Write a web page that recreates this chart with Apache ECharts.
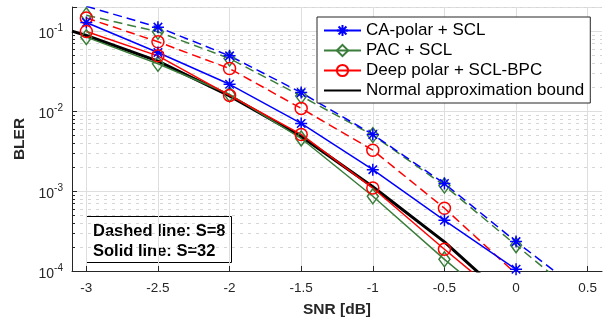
<!DOCTYPE html>
<html>
<head>
<meta charset="utf-8">
<script src="https://cdn.jsdelivr.net/npm/echarts@6/dist/echarts.min.js"></script>
<style>
  html, body { margin: 0; padding: 0; background: #fff; }
  #chart { width: 616px; height: 324px; }
</style>
</head>
<body>
<div id="chart"></div>
<script>
// SNR grid (dB)
const snr = [-3, -2.5, -2, -1.5, -1, -0.5, 0, 0.5];
const snrBound = [-3.1, -3, -2.5, -2, -1.5, -1, -0.5, 0];

// S = 8 (dashed)
const caS8 = [0.204, 0.112, 0.049, 0.0170, 0.0051, 0.00124, 0.000233, 0.000048];
const pacS8 = [0.158, 0.098, 0.0454, 0.0154, 0.0050, 0.00117, 0.00021, 0.000039];
const deepS8 = [0.146, 0.0734, 0.034, 0.0108, 0.00324, 0.00061, 0.000092];

// S = 32 (solid)
const caS32 = [0.128, 0.054, 0.0216, 0.0070, 0.00185, 0.00043, 0.000105];
const pacS32 = [0.084, 0.039, 0.0162, 0.00454, 0.00086, 0.00014, 0.000025];
const deepS32 = [0.099, 0.049, 0.0157, 0.0051, 0.00109, 0.000187, 0.000034];

// normal approximation bound
const normalBound = [0.1, 0.088, 0.042, 0.0155, 0.0048, 0.00113, 0.000231, 0.000036];

const xTicks = [-3, -2.5, -2, -1.5, -1, -0.5, 0, 0.5];
const decades = [1e-4, 1e-3, 1e-2, 1e-1];
const minorMult = [2, 3, 4, 5, 6, 7, 8, 9];

const X_MIN = -3.1, X_MAX = 0.6, Y_MIN = 1e-4, Y_MAX = 0.2;
const BLUE = '#0000ff', GREEN = '#3a7d3a', RED = '#ff0000';
const FONT = "'Liberation Sans', Arial, Helvetica, sans-serif";
const STAR = 'path://M0,-10L0,10M-10,0L10,0M-7.07,-7.07L7.07,7.07M-7.07,7.07L7.07,-7.07';
const CLEAR = 'rgba(0,0,0,0)';

const pairs = (xs, ys) => ys.map((y, i) => [xs[i], y]);

// minor grid values (2..9 x decade), inside the axis range
const minorVals = [];
decades.forEach(d => minorMult.forEach(m => {
  const v = +(m * d).toPrecision(3);
  if (v <= Y_MAX + 1e-12) minorVals.push([X_MIN, v]);
}));

function lineSeries(name, data, color, symbol, size, dashed) {
  return {
    name: name,
    type: 'line',
    data: data,
    symbol: symbol,
    symbolSize: size,
    showAllSymbol: true,
    lineStyle: { color: color, width: 1.5, type: dashed ? [9, 5] : 'solid' },
    itemStyle: { color: CLEAR, borderColor: color, borderWidth: 1.5 },
    emphasis: { disabled: true },
    z: 3
  };
}

const chart = echarts.init(document.getElementById('chart'));

chart.setOption({
  animation: false,
  grid: { left: 72, top: 7, right: 14, bottom: 53 },
  legend: {
    orient: 'vertical',
    left: 317,
    top: 17,
    padding: [5, 6, 4, 6],
    itemWidth: 37,
    itemHeight: 14,
    itemGap: 3,
    backgroundColor: '#fff',
    borderColor: '#262626',
    borderWidth: 1,
    borderRadius: 0,
    textStyle: { fontFamily: FONT, fontSize: 17, lineHeight: 17, color: '#000' },
    data: ['CA-polar + SCL', 'PAC + SCL', 'Deep polar + SCL-BPC', 'Normal approximation bound']
  },
  xAxis: {
    type: 'value',
    min: X_MIN,
    max: X_MAX,
    name: 'SNR [dB]',
    nameLocation: 'middle',
    nameGap: 31,
    nameTextStyle: { fontFamily: FONT, fontSize: 15.5, fontWeight: 'bold', color: '#262626' },
    axisLine: { onZero: false, lineStyle: { color: '#262626', width: 1 } },
    axisTick: { inside: true, length: 5, customValues: xTicks, lineStyle: { color: '#262626' } },
    axisLabel: {
      customValues: xTicks,
      margin: 10,
      fontFamily: FONT,
      fontSize: 13.5,
      color: '#262626',
      formatter: v => String(v)
    },
    splitLine: { show: true, lineStyle: { color: '#dedede', width: 1 } }
  },
  yAxis: {
    type: 'log',
    logBase: 10,
    min: Y_MIN,
    max: Y_MAX,
    name: 'BLER',
    nameLocation: 'middle',
    nameGap: 41,
    nameTextStyle: { fontFamily: FONT, fontSize: 15.5, fontWeight: 'bold', color: '#262626' },
    axisLine: { show: true, onZero: false, lineStyle: { color: '#262626', width: 1 } },
    axisTick: { show: true, inside: true, length: 5, lineStyle: { color: '#262626' } },
    axisLabel: {
      margin: 9,
      color: '#262626',
      formatter: function (v) {
        const e = Math.log10(v);
        const r = Math.round(e);
        if (Math.abs(e - r) > 1e-6) return '';
        return '{b|10}{s|' + r + '}';
      },
      rich: {
        b: { fontFamily: FONT, fontSize: 14, color: '#262626', padding: [6, 0, 0, 0] },
        s: { fontFamily: FONT, fontSize: 10, color: '#262626', padding: [0, 0, 6, 0] }
      }
    },
    splitLine: { show: true, lineStyle: { color: '#dedede', width: 1 } }
  },
  graphic: [{
    type: 'group',
    left: 86,
    top: 216,
    z: 100,
    children: [
      {
        type: 'rect',
        shape: { x: 0.5, y: 0.5, width: 145, height: 46 },
        style: { fill: '#fff', stroke: '#000', lineWidth: 1 }
      },
      {
        type: 'text',
        left: 7,
        top: 5,
        style: {
          text: 'Dashed line: S=8\nSolid line: S=32',
          font: 'bold 16.5px ' + FONT,
          lineHeight: 20,
          fill: '#000'
        }
      }
    ]
  }],
  series: [
    {
      name: 'minor grid',
      type: 'custom',
      data: minorVals,
      silent: true,
      z: 1,
      clip: false,
      renderItem: function (params, api) {
        const v = api.value(1);
        const p0 = api.coord([X_MIN, v]);
        const p1 = api.coord([X_MAX, v]);
        const y = Math.round(p0[1]) + 0.5;
        return {
          type: 'group',
          children: [
            { type: 'line', shape: { x1: p0[0], y1: y, x2: p1[0], y2: y },
              style: { stroke: '#d6d6d6', lineWidth: 1, lineDash: [3, 5] } },
            { type: 'line', shape: { x1: p0[0], y1: y, x2: p0[0] + 3, y2: y },
              style: { stroke: '#262626', lineWidth: 1 } }
          ]
        };
      }
    },
    {
      name: 'Normal approximation bound',
      type: 'line',
      data: pairs(snrBound, normalBound),
      symbol: 'circle',
      symbolSize: 1,
      showSymbol: false,
      lineStyle: { color: '#000', width: 3 },
      itemStyle: { color: CLEAR, borderColor: CLEAR, borderWidth: 0 },
      emphasis: { disabled: true },
      z: 2
    },
    lineSeries('PAC + SCL, S=8', pairs(snr, pacS8), GREEN, 'diamond', [11, 15], true),
    lineSeries('CA-polar + SCL, S=8', pairs(snr, caS8), BLUE, STAR, 12, true),
    lineSeries('Deep polar + SCL-BPC, S=8', pairs(snr, deepS8), RED, 'circle', 12, true),
    lineSeries('PAC + SCL', pairs(snr, pacS32), GREEN, 'diamond', [11, 15], false),
    lineSeries('CA-polar + SCL', pairs(snr, caS32), BLUE, STAR, 12, false),
    lineSeries('Deep polar + SCL-BPC', pairs(snr, deepS32), RED, 'circle', 12, false)
  ]
});
</script>
</body>
</html>
